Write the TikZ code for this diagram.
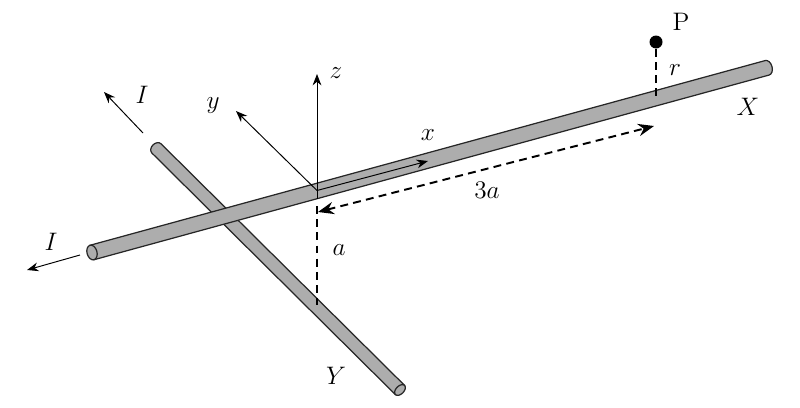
\documentclass[tikz,border=0pt]{standalone}
\usetikzlibrary{arrows.meta}
\begin{document}
\begin{tikzpicture}[x=0.02cm,y=0.02cm,
  rod/.style={fill=black!32, draw=black!85, line width=0.7pt},
  axis/.style={line width=0.55pt, -{Stealth[length=6.5pt,width=5pt]}},
  dimline/.style={line width=1.1pt, dash pattern=on 4.5pt off 3pt},
  lab/.style={font=\Large, inner sep=0pt}]
\useasboundingbox (0,0) rectangle (800,407);

% coordinates
\coordinate (O) at (317,216.5);
\coordinate (Ob) at (317,208.5);
\coordinate (ztip) at (317,333);
\coordinate (ytip) at (236,296);
\coordinate (xtip) at (428,246);
\coordinate (d1) at (318,195);
\coordinate (d2) at (654,281);
\coordinate (a1) at (317,201);
\coordinate (a2) at (317,102);
\coordinate (rbot) at (656,308);
\coordinate (I1s) at (143,274);
\coordinate (I1e) at (104,315);
\coordinate (I2s) at (80,152);
\coordinate (I2e) at (27,137);

% Y rod (behind)
\begin{scope}[shift={(400,17)}, rotate=135.23]
  \filldraw[rod] (0,6.5) -- (343,6.5) arc[start angle=90,end angle=-90,x radius=5,y radius=6.5] -- (0,-6.5) -- cycle;
  \filldraw[rod] (0,0) ellipse[x radius=4,y radius=6.5];
\end{scope}

% X rod
\begin{scope}[shift={(92,154.5)}, rotate=15.3]
  \filldraw[rod] (0,7.5) -- (700,7.5) arc[start angle=90,end angle=-90,x radius=5,y radius=7.5] -- (0,-7.5) -- cycle;
  \filldraw[rod] (0,0) ellipse[x radius=5,y radius=7.5];
\end{scope}

% axes
\draw[axis] (Ob) -- (ztip);
\draw[axis] (O) -- (ytip);
\draw[axis] (O) -- (xtip);

% dashed lines
\draw[dimline, {Stealth[length=9pt,width=7pt]}-{Stealth[length=9pt,width=7pt]}] (d1) -- (d2);
\draw[dimline] (a1) -- (a2);
\node[circle, fill=black, inner sep=0pt, minimum size=13*0.02cm] (P) at (656,365) {};
\draw[dimline] (P) -- (rbot);

% current arrows
\draw[axis] (I1s) -- (I1e);
\draw[axis] (I2s) -- (I2e);

% labels
\node[lab] (lz) at (336,334) {$z$};
\node[lab] (ly) at (213,301) {$y$};
\node[lab] (lx) at (428,272) {$x$};
\node[lab] (l3a) at (487,217) {$3a$};
\node[lab] (la) at (339,157) {$a$};
\node[lab] (lr) at (675,337) {$r$};
\node[lab] (lP) at (681,385) {P};
\node[lab] (lX) at (748,300) {$X$};
\node[lab] (lY) at (336,31) {$Y$};
\node[lab] (lI1) at (142,312) {$I$};
\node[lab] (lI2) at (51,165) {$I$};
\end{tikzpicture}
\end{document}
